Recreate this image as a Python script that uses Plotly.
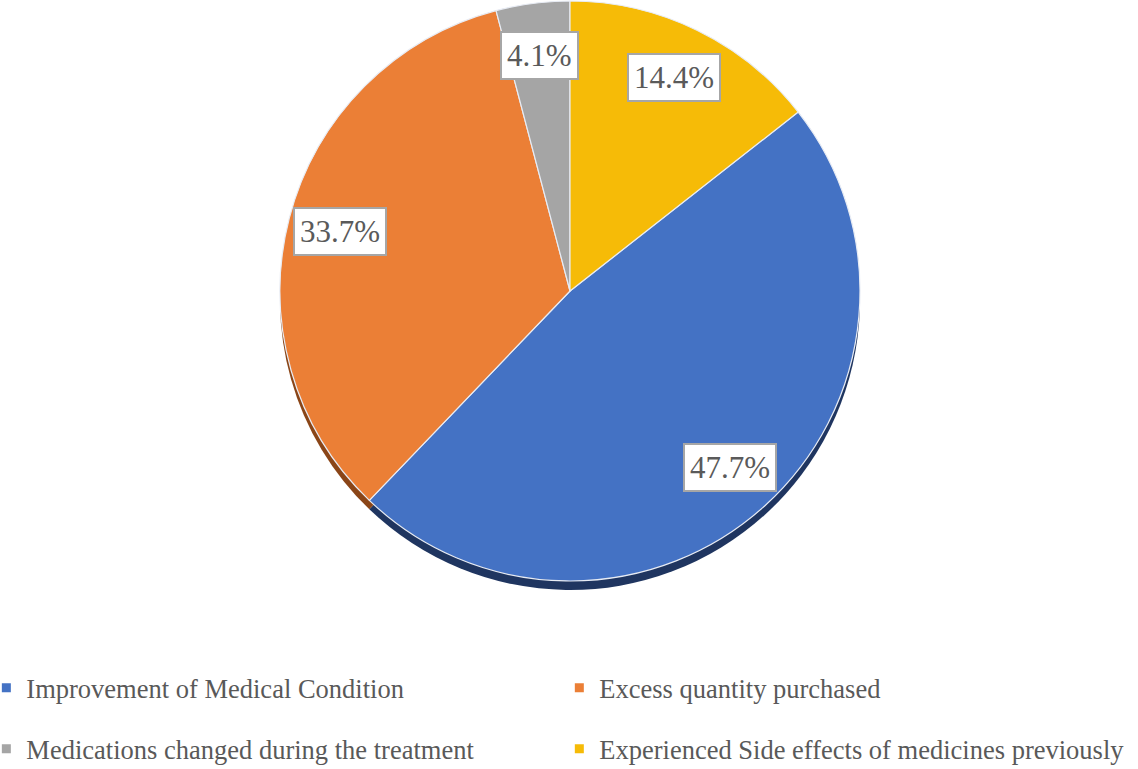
import math
import plotly.graph_objects as go

labels = ["Improvement of Medical Condition", "Excess quantity purchased",
          "Medications changed during the treatment", "Experienced Side effects of medicines previously"]
values = [47.7, 33.7, 4.1, 14.4]
colors = ["#4472C4", "#EB7F36", "#A5A5A5", "#F6BB07"]
shadow_colors = ["#1F3560", "#8A4517", "#5E5E5E", "#8F6C00"]
text_labels = ["47.7%", "33.7%", "4.1%", "14.4%"]

W, H = 1138, 769
cx_px, cy_px, R = 570, 291, 290
rotation = 360 * values[3] / sum(values)  # first slice starts after the last one, clockwise from top

dom_x = [(cx_px - R) / W, (cx_px + R) / W]
dom_y = [1 - (cy_px + R) / H, 1 - (cy_px - R) / H]
sh = 9
dom_y_sh = [dom_y[0] - sh / H, dom_y[1] - sh / H]

fig = go.Figure()
fig.add_trace(go.Pie(labels=labels, values=values, sort=False, direction="clockwise",
                     rotation=rotation, domain=dict(x=dom_x, y=dom_y_sh),
                     marker=dict(colors=shadow_colors, line=dict(width=0)),
                     textinfo="none", hoverinfo="skip", showlegend=False))
fig.add_trace(go.Pie(labels=labels, values=values, sort=False, direction="clockwise",
                     rotation=rotation, domain=dict(x=dom_x, y=dom_y),
                     marker=dict(colors=colors, line=dict(color="#E8ECF4", width=1.2)),
                     textinfo="none", hoverinfo="label+percent", showlegend=False))

# legend entries: two rows x two columns, one legend per entry
legend_ids = ["legend", "legend2", "legend3", "legend4"]
for lab, col, lg in zip(labels, colors, legend_ids):
    fig.add_trace(go.Scatter(x=[None], y=[None], mode="markers", name=lab, legend=lg,
                             marker=dict(symbol="square", size=9, color=col),
                             hoverinfo="skip"))

total = sum(values)
start = rotation
for v, t in zip(values, text_labels):
    ang = start + 360 * v / total / 2
    start += 360 * v / total
    rr = 0.82 * R
    x_px = cx_px + rr * math.sin(math.radians(ang))
    y_px = cy_px - rr * math.cos(math.radians(ang))
    fig.add_annotation(x=x_px / W, y=1 - y_px / H, xref="paper", yref="paper",
                       xanchor="center", yanchor="middle",
                       text=t, showarrow=False, bgcolor="white", bordercolor="#A6A6A6",
                       borderwidth=2, borderpad=5,
                       font=dict(family="Liberation Serif", size=31, color="#5A5A5A"))

leg_common = dict(orientation="h", xanchor="left", yanchor="middle",
                  font=dict(family="Liberation Serif", size=26.5, color="#595959"),
                  itemwidth=30, bgcolor="rgba(0,0,0,0)")
col_x = [-0.012, 0.4915]
row_y = [1 - 688 / H, 1 - 749 / H]
fig.update_layout(
    width=W, height=H, margin=dict(l=0, r=0, t=0, b=0, autoexpand=False),
    paper_bgcolor="white", plot_bgcolor="white",
    font=dict(family="Liberation Serif", color="#595959"),
    xaxis=dict(visible=False), yaxis=dict(visible=False),
    legend=dict(x=col_x[0], y=row_y[0], **leg_common),
    legend2=dict(x=col_x[1], y=row_y[0], **leg_common),
    legend3=dict(x=col_x[0], y=row_y[1], **leg_common),
    legend4=dict(x=col_x[1], y=row_y[1], **leg_common),
)
fig.write_html("out.html", config={"displayModeBar": False},
               post_script="document.body.style.margin='0';")
